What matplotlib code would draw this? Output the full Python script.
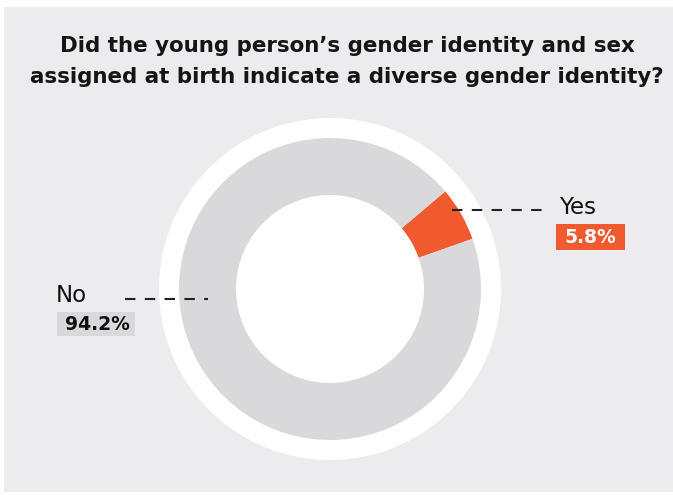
import matplotlib
matplotlib.use("Agg")
import matplotlib.pyplot as plt
from matplotlib.patches import Rectangle, Circle

title = "Did the young person\u2019s gender identity and sex\nassigned at birth indicate a diverse gender identity?"
categories = ["Yes", "No"]
values = [5.8, 94.2]
colors = ["#f15a2f", "#d9d9db"]
label_colors = ["#ffffff", "#111111"]

W, H = 673, 495
plt.rcParams['font.family'] = ['DejaVu Sans']
fig = plt.figure(figsize=(W / 100, H / 100), dpi=100)
ax = fig.add_axes([0, 0, 1, 1])

def py(y):
    return H - y

# panel
ax.add_patch(Rectangle((4, py(492)), 673 - 4, 492 - 7, facecolor="#ececee", edgecolor="none", zorder=0))

cx, cy = 330, py(289)
ax.add_patch(Circle((cx, cy), 171, facecolor="white", edgecolor="none", zorder=1))
wedges, _ = ax.pie(values, colors=colors, startangle=19.4, counterclock=True,
                   radius=151, center=(cx, cy),
                   wedgeprops=dict(width=57, edgecolor="none"), frame=False)
for w in wedges:
    w.set_zorder(2)

ax.set_xlim(0, W)
ax.set_ylim(0, H)
ax.set_aspect("auto")
ax.axis("off")

ax.text(347, py(61.5), title, ha="center", va="center", fontsize=15.4, fontweight="bold",
        color="#151515", linespacing=1.72, zorder=5)

# Yes label
ax.plot([452, 550], [py(210), py(210)], color="#222222", lw=1.5, linestyle=(0, (5, 4.5)), zorder=5)
ax.text(559, py(207), categories[0], ha="left", va="center", fontsize=16.5, color="#111111", zorder=5)
ax.add_patch(Rectangle((556, py(250)), 69, 26, facecolor=colors[0], edgecolor="none", zorder=5))
ax.text(590.5, py(237.5), f"{values[0]}%", ha="center", va="center", fontsize=13.5, fontweight="bold",
        color=label_colors[0], zorder=6)

# No label
ax.plot([125, 208], [py(299), py(299)], color="#222222", lw=1.5, linestyle=(0, (5, 4.5)), zorder=5)
ax.text(56, py(295), categories[1], ha="left", va="center", fontsize=16.5, color="#111111", zorder=5)
ax.add_patch(Rectangle((57, py(336)), 78, 24, facecolor=colors[1], edgecolor="none", zorder=5))
ax.text(97, py(324.5), f"{values[1]}%", ha="center", va="center", fontsize=13.5, fontweight="bold",
        color=label_colors[1], zorder=6)

fig.savefig("out.png", dpi=100, facecolor="white")
